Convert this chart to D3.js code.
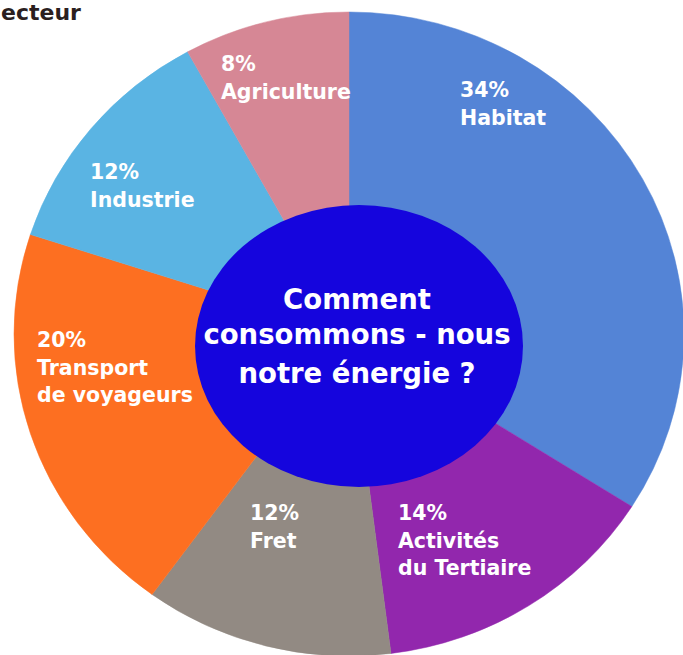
<!DOCTYPE html>
<html>
<head>
<meta charset="utf-8">
<script src="https://cdn.jsdelivr.net/npm/d3@7"></script>
<style>
  html, body { margin: 0; padding: 0; background: #fff; overflow: hidden; }
  svg { display: block; }
</style>
</head>
<body>
<div id="chart"></div>
<script>
// energy use by sector
const categories = ["Habitat", "Activités du Tertiaire", "Fret", "Transport de voyageurs", "Industrie", "Agriculture"];
const shares = [34, 14, 12, 20, 12, 8];
const nameLines = [["Habitat"], ["Activités", "du Tertiaire"], ["Fret"], ["Transport", "de voyageurs"], ["Industrie"], ["Agriculture"]];
const sliceColors = ["#5484d6", "#9227ad", "#928a83", "#fd6f21", "#5ab4e3", "#d68795"];
const centerLines = ["Comment", "consommons - nous", "notre énergie ?"];
const titleText = "ecteur"; // only the tail of the title is visible

// label anchors (left x, first baseline)
const labelPos = [[460, 97], [398, 520], [250, 520], [37, 347], [90, 179], [221, 71]];

function drawDonut() {
    const width = 683, height = 655;
    const cx = 349, cy = 334, rx = 335, ry = 322;

    const svg = d3.select("#chart")
        .append("svg")
        .attr("width", width)
        .attr("height", height);

    const data = categories.map((c, i) => ({name: c, value: shares[i], lines: nameLines[i], color: sliceColors[i]}));

    const pie = d3.pie().sort(null).value(d => d.value);
    const arc = d3.arc().innerRadius(0).outerRadius(ry);

    const g = svg.append("g")
        .attr("transform", `translate(${cx},${cy}) scale(${rx / ry},1)`);

    g.selectAll("path")
        .data(pie(data))
        .enter()
        .append("path")
        .attr("d", arc)
        .attr("fill", d => d.data.color)
        .attr("stroke", d => d.data.color)
        .attr("stroke-width", 0.5);

    // centre disc
    svg.append("ellipse")
        .attr("cx", 359)
        .attr("cy", 346)
        .attr("rx", 164)
        .attr("ry", 141)
        .attr("fill", "#1505dd");

    const font = "'DejaVu Sans', Verdana, sans-serif";

    const labels = svg.append("g")
        .selectAll("text")
        .data(data)
        .enter()
        .append("text")
        .attr("x", (d, i) => labelPos[i][0])
        .attr("y", (d, i) => labelPos[i][1])
        .attr("fill", "#fff")
        .style("font-family", font)
        .style("font-weight", "bold")
        .style("font-size", "20.5px");

    labels.each(function(d, i) {
        const t = d3.select(this);
        const rows = [d.value + "%"].concat(d.lines);
        rows.forEach((r, k) => {
            t.append("tspan")
                .attr("x", labelPos[i][0])
                .attr("dy", k === 0 ? 0 : 27.5)
                .text(r);
        });
    });

    const baselines = [309, 344, 383];
    svg.append("g")
        .selectAll("text")
        .data(centerLines)
        .enter()
        .append("text")
        .attr("x", 357)
        .attr("y", (d, i) => baselines[i])
        .attr("text-anchor", "middle")
        .attr("fill", "#fff")
        .style("font-family", font)
        .style("font-weight", "bold")
        .style("font-size", "27.5px")
        .text(d => d);

    // title tail, top left
    svg.append("text")
        .attr("x", 1)
        .attr("y", 20)
        .attr("fill", "#2b1f1f")
        .style("font-family", font)
        .style("font-weight", "bold")
        .style("font-size", "22px")
        .text(titleText);
}

drawDonut();
</script>
</body>
</html>
